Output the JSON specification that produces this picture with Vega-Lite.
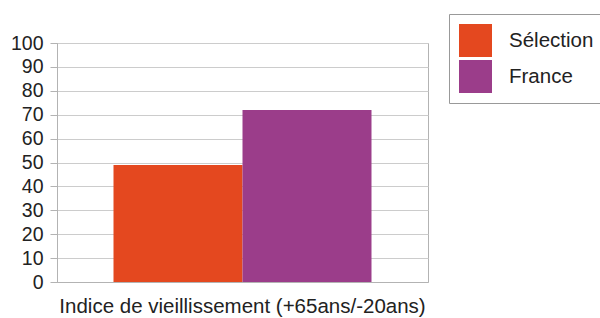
{
  "$schema": "https://vega.github.io/schema/vega-lite/v6.json",
  "width": 371,
  "height": 239,
  "autosize": "none",
  "padding": {"left": 57, "top": 43, "right": 172, "bottom": 36},
  "background": "white",
  "config": {
    "font": "Liberation Sans",
    "view": {"stroke": "#b3b3b3", "strokeWidth": 1}
  },
  "data": {
    "values": [
      {"indicateur": "Indice de vieillissement (+65ans/-20ans)", "serie": "Sélection", "valeur": 49},
      {"indicateur": "Indice de vieillissement (+65ans/-20ans)", "serie": "France", "valeur": 72}
    ]
  },
  "mark": {"type": "bar", "strokeWidth": 0},
  "encoding": {
    "x": {
      "field": "indicateur",
      "type": "nominal",
      "scale": {"paddingInner": 0, "paddingOuter": 0.219},
      "axis": {
        "title": null,
        "labelAngle": 0,
        "labelFontSize": 20.5,
        "labelColor": "#222",
        "labelPadding": 14,
        "ticks": false,
        "domainColor": "#b3b3b3",
        "labelLimit": 600
      }
    },
    "xOffset": {
      "field": "serie",
      "type": "nominal",
      "sort": ["Sélection", "France"],
      "scale": {"paddingInner": 0, "paddingOuter": 0}
    },
    "y": {
      "field": "valeur",
      "type": "quantitative",
      "scale": {"domain": [0, 100], "nice": false},
      "axis": {
        "title": null,
        "values": [0, 10, 20, 30, 40, 50, 60, 70, 80, 90, 100],
        "labelFontSize": 19.5,
        "labelColor": "#222",
        "tickSize": 7,
        "tickColor": "#b3b3b3",
        "domainColor": "#b3b3b3",
        "gridColor": "#cccccc",
        "labelPadding": 7
      }
    },
    "color": {
      "field": "serie",
      "type": "nominal",
      "sort": ["Sélection", "France"],
      "scale": {"domain": ["Sélection", "France"], "range": ["#e4481f", "#9b3d8a"]},
      "legend": {
        "title": null,
        "orient": "none",
        "legendX": 392,
        "legendY": -29,
        "symbolType": "square",
        "symbolSize": 1089,
        "symbolStrokeWidth": 0,
        "symbolOpacity": 1,
        "labelFontSize": 20.5,
        "labelColor": "#222",
        "labelOffset": 17,
        "rowPadding": 3,
        "padding": 10,
        "strokeColor": "#999999",
        "fillColor": "white"
      }
    }
  }
}
